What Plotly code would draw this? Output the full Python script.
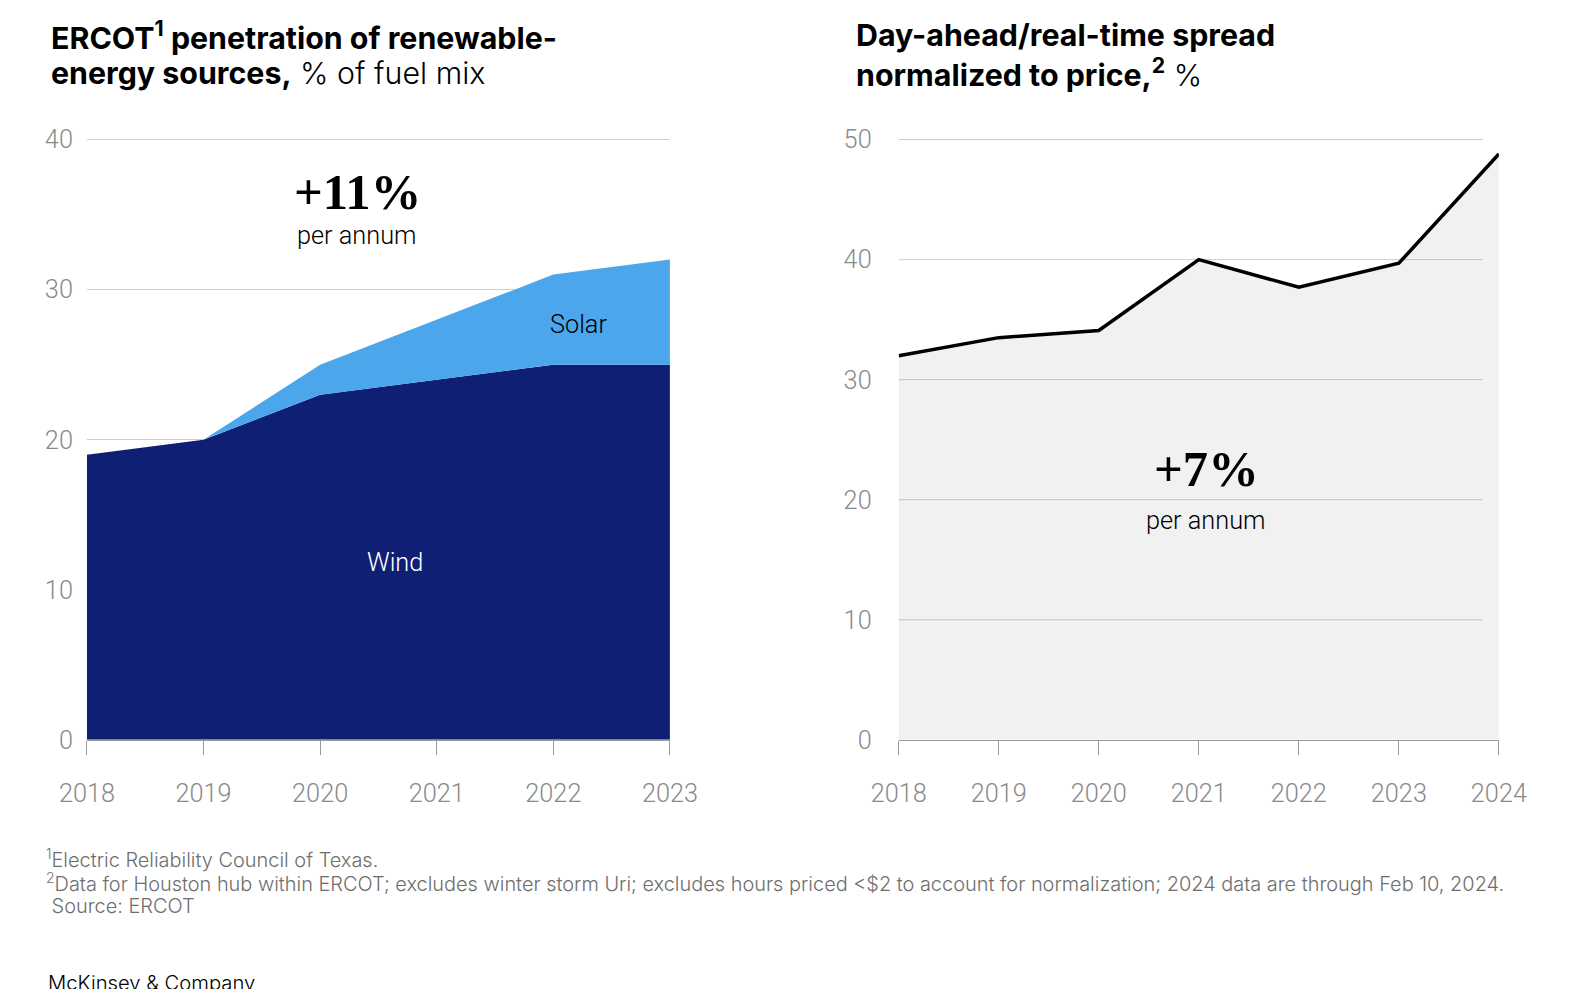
import plotly.graph_objects as go

# ---- data ----
years_left = [2018, 2019, 2020, 2021, 2022, 2023]
wind = [19, 20, 23, 24, 25, 25]
solar = [0, 0, 2, 4, 6, 7]

years_right = [2018, 2019, 2020, 2021, 2022, 2023, 2024]
spread = [32.0, 33.5, 34.1, 40.0, 37.7, 39.7, 48.8]

left_yticks = [0, 10, 20, 30, 40]
right_yticks = [0, 10, 20, 30, 40, 50]

# the page is photographed with an 8px body margin and a slight downscale
OFF = 8
SC = 0.988
W, H = 1590, 990
def fx(x):
    return (x - OFF) / SC
def fy(y):
    return (y - OFF) / SC
def px(x):
    return fx(x) / W
def py(y):
    return 1 - fy(y) / H
def fs(s):
    return s / SC

SANS = "Roboto"
TITLE = "Inter"
TICK_COLOR = "#8a8a8a"
AXIS_COLOR = "#9a9a9a"
GRID_COLOR = "#cfcfcf"

fig = go.Figure()

fig.add_trace(go.Scatter(x=years_left, y=wind, stackgroup="one", mode="lines",
                         line=dict(width=0, color="#0f1f73"), fillcolor="#0f1f73",
                         xaxis="x", yaxis="y", hoverinfo="skip", name="Wind"))
fig.add_trace(go.Scatter(x=years_left, y=solar, stackgroup="one", mode="lines",
                         line=dict(width=0, color="#4ba6eb"), fillcolor="#4ba6eb",
                         xaxis="x", yaxis="y", hoverinfo="skip", name="Solar"))
fig.add_trace(go.Scatter(x=years_right, y=spread, mode="lines", fill="tozeroy",
                         fillcolor="rgba(0,0,0,0.055)",
                         line=dict(width=3.5, color="#000000"),
                         xaxis="x2", yaxis="y2", hoverinfo="skip", name="Spread"))

tickfont = dict(family=SANS, size=fs(25), color=TICK_COLOR, weight=300)

y0px = 731
left_ppu = (731 - 138) / 40.0
right_ppu = (731 - 138) / 50.0
left_top = 41
right_top = 51.5

fig.update_layout(
    width=W, height=H,
    margin=dict(l=0, r=0, t=0, b=0, autoexpand=False),
    paper_bgcolor="white", plot_bgcolor="rgba(0,0,0,0)",
    showlegend=False,
    font=dict(family=SANS),
    xaxis=dict(domain=[px(86), px(662)], range=[2018, 2023], tickvals=years_left,
               showgrid=False, zeroline=False, showline=True, linecolor=AXIS_COLOR, linewidth=1,
               ticks="outside", ticklen=14, tickcolor=AXIS_COLOR, tickwidth=1,
               tickfont=tickfont, ticklabelstandoff=17, anchor="y", fixedrange=True,
               automargin=False),
    yaxis=dict(domain=[py(y0px), py(y0px - left_top * left_ppu)], range=[0, left_top],
               tickvals=left_yticks, showgrid=True, gridcolor=GRID_COLOR, gridwidth=1,
               zeroline=False, showline=False, ticks="", tickfont=tickfont,
               ticklabelstandoff=13, anchor="x", fixedrange=True, automargin=False),
    xaxis2=dict(domain=[px(888), px(1481)], range=[2018, 2024], tickvals=years_right,
                showgrid=False, zeroline=False, showline=True, linecolor=AXIS_COLOR, linewidth=1,
                ticks="outside", ticklen=14, tickcolor=AXIS_COLOR, tickwidth=1,
                tickfont=tickfont, ticklabelstandoff=17, anchor="y2", fixedrange=True,
                automargin=False),
    yaxis2=dict(domain=[py(y0px), py(y0px - right_top * right_ppu)], range=[0, right_top],
                tickvals=right_yticks, showgrid=False, zeroline=False, showline=False,
                ticks="", tickfont=tickfont, ticklabelstandoff=26, anchor="x2", fixedrange=True,
                automargin=False),
)

# right-panel gridlines (shorter than the plotted data)
for v in right_yticks[1:]:
    fig.add_shape(type="line", xref="paper", yref="y2", x0=px(888), x1=px(1465), y0=v, y1=v,
                  line=dict(color=GRID_COLOR, width=1), layer="below")

anns = []
def ann(x, y, text, size, color="#000000", family=SANS, weight=None, xanchor="center", yanchor="middle"):
    f = dict(family=family, size=fs(size), color=color)
    if weight is not None:
        f["weight"] = weight
    anns.append(dict(x=px(x), y=py(y), xref="paper", yref="paper", text=text, showarrow=False,
                     xanchor=xanchor, yanchor=yanchor, align="left", font=f))

# titles
ann(49, 35, "<b>ERCOT<sup>1</sup> penetration of renewable-</b>", 30, family=TITLE, weight=300, xanchor="left")
ann(49, 72, "<b>energy sources,</b> % of fuel mix", 30, family=TITLE, weight=300, xanchor="left")
ann(844, 35, "<b>Day-ahead/real-time spread</b>", 30, family=TITLE, weight=300, xanchor="left")
ann(844, 72, "<b>normalized to price,<sup>2</sup></b> %", 30, family=TITLE, weight=300, xanchor="left")

# in-chart callouts
ann(353, 190, "<b>+11%</b>", 50, family="Liberation Serif")
ann(353, 233, "per annum", 25, weight=300)
ann(572, 321, "Solar", 25, weight=300)
ann(390, 556, "Wind", 25, color="#ffffff", weight=300)
ann(1192, 463, "<b>+7%</b>", 50, family="Liberation Serif")
ann(1192, 514, "per annum", 25, weight=300)

# footnotes
FN = "#6e6e6e"
FNF = "Inter"
ann(44, 848, "<sup>1</sup>Electric Reliability Council of Texas.", 19.7, color=FN, family=FNF, weight=300, xanchor="left")
ann(44, 872, "<sup>2</sup>Data for Houston hub within ERCOT; excludes winter storm Uri; excludes hours priced &lt;$2 to account for normalization; 2024 data are through Feb 10, 2024.", 19.7, color=FN, family=FNF, weight=300, xanchor="left")
ann(44, 895, " Source: ERCOT", 19.7, color=FN, family=FNF, weight=300, xanchor="left")
ann(46, 971, "McKinsey &amp; Company", 20, color="#000000", family=FNF, weight=300, xanchor="left")

fig.update_layout(annotations=anns)

fig.write_html("out.html")
